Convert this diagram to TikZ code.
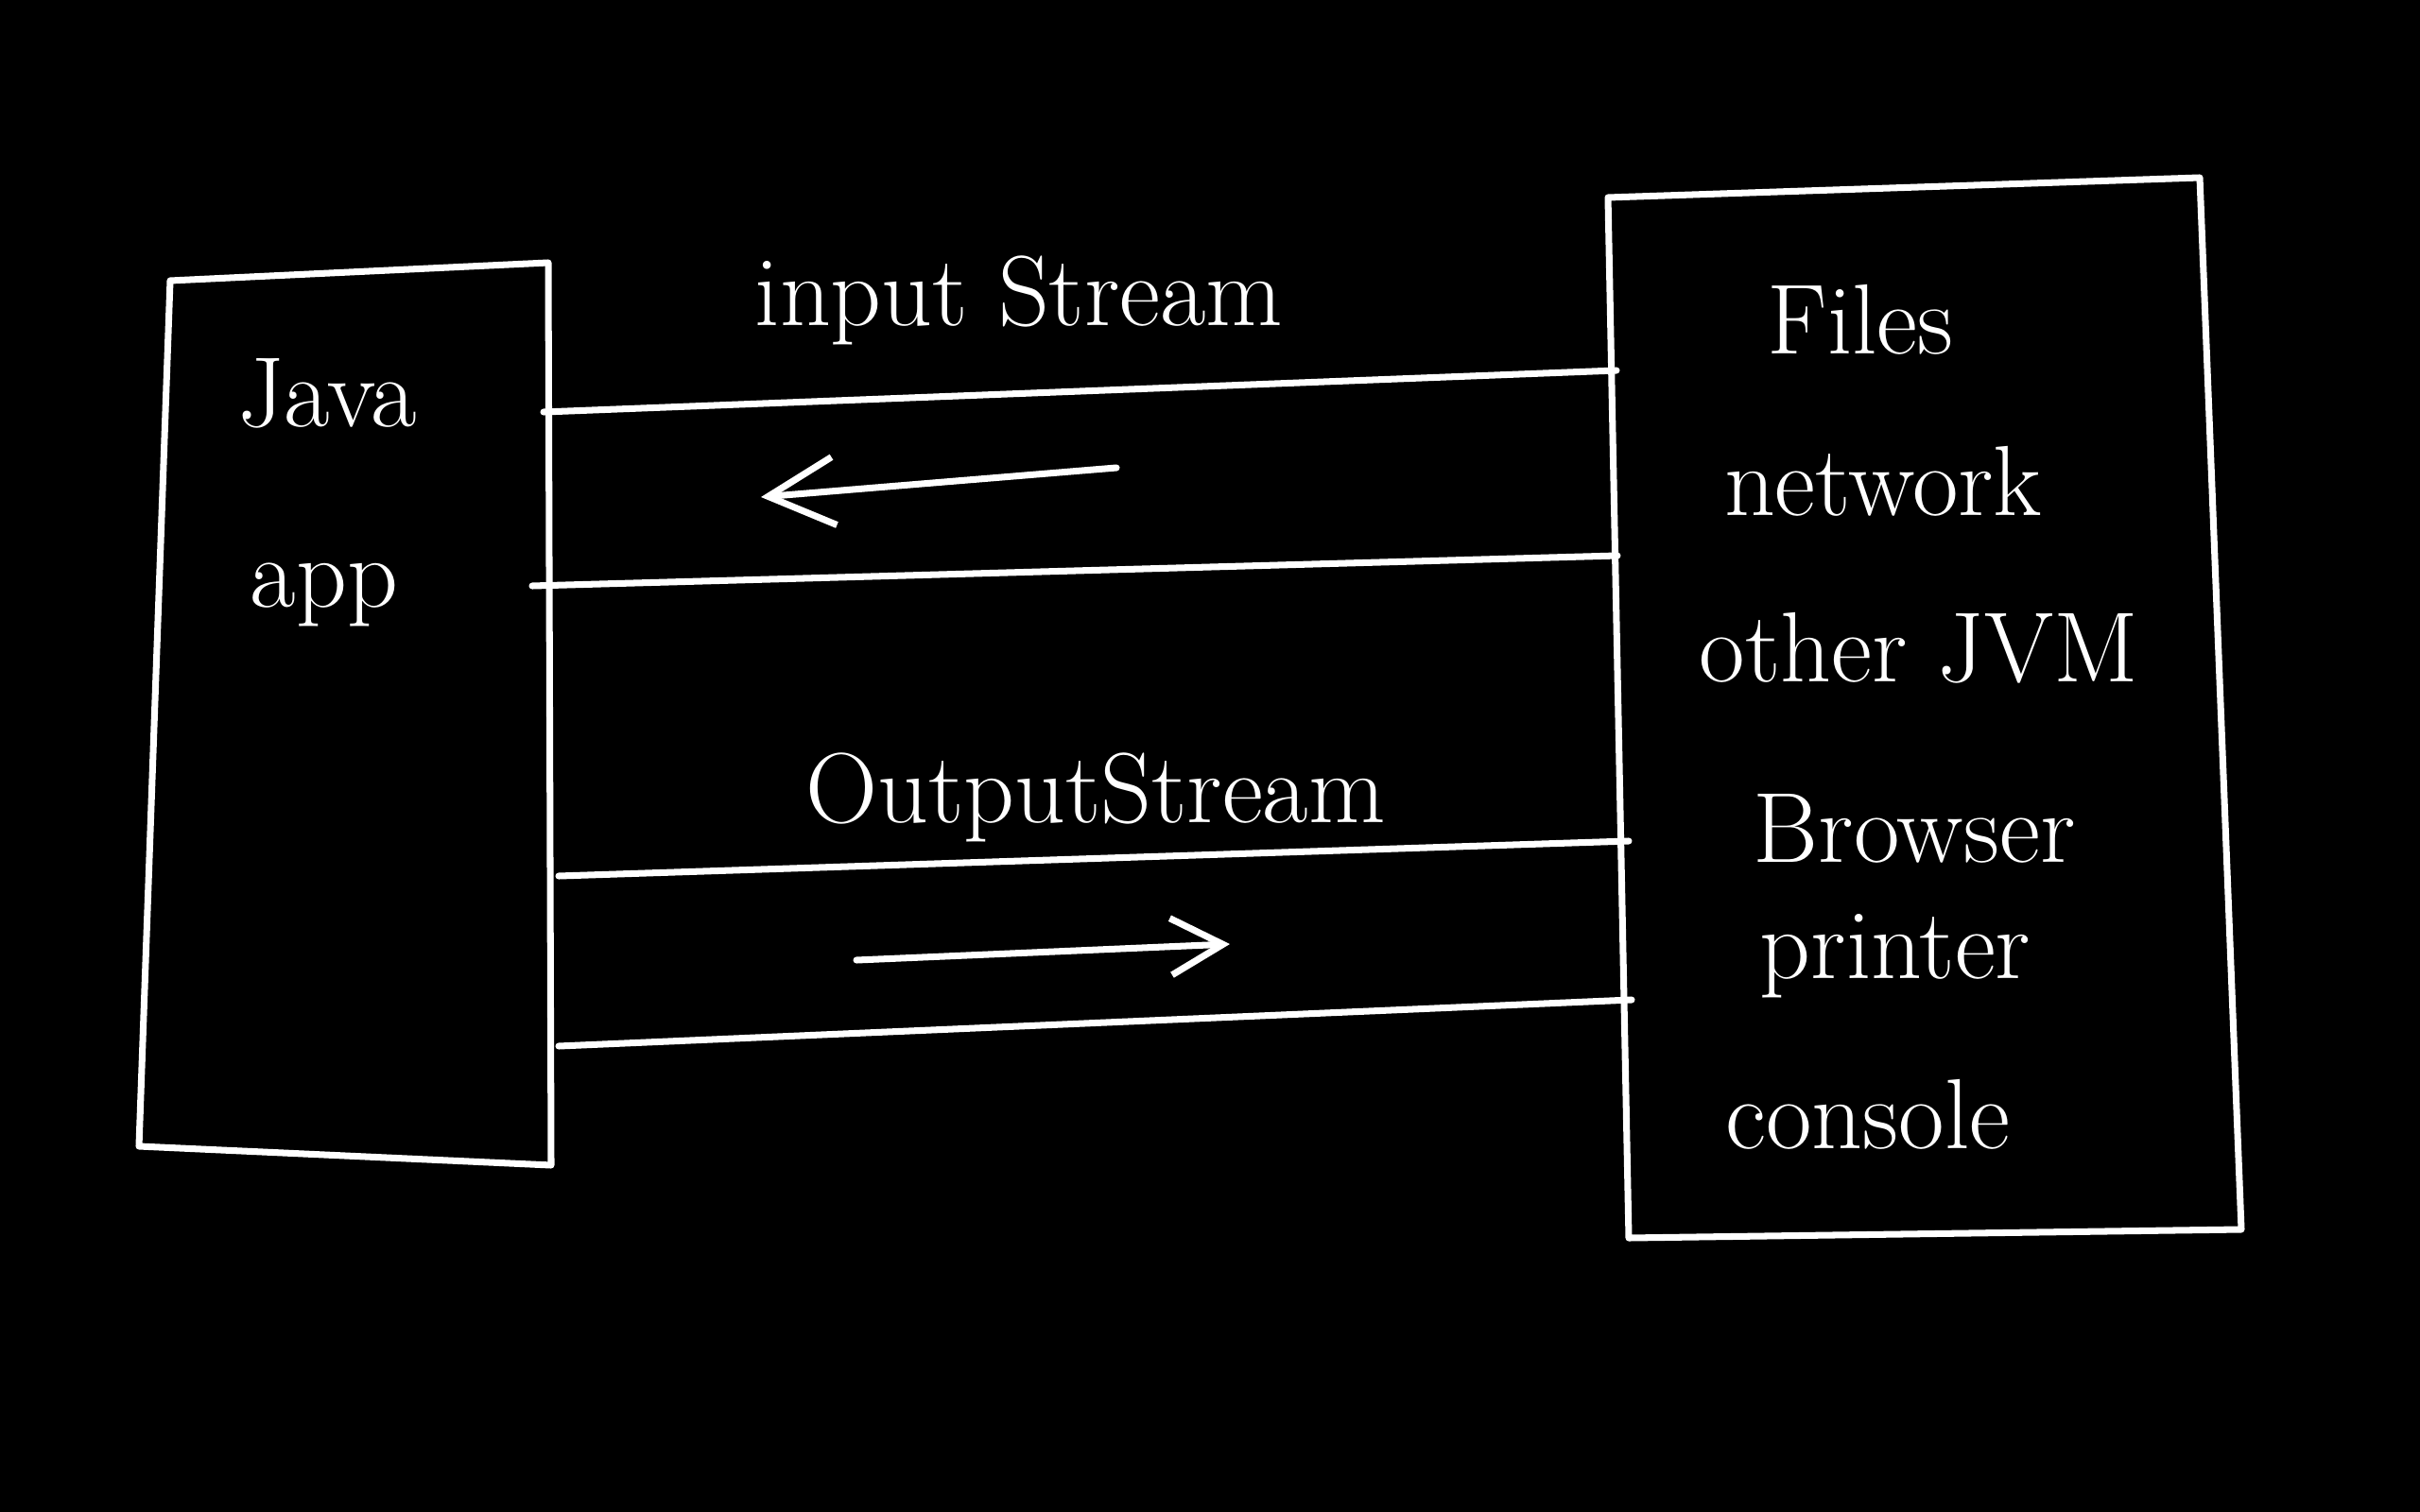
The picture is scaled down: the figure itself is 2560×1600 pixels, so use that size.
\documentclass[tikz,border=0pt]{standalone}
\usetikzlibrary{arrows.meta}
\begin{document}
\begin{tikzpicture}[x=0.01cm,y=-0.01cm,
  pen/.style={draw=white,line width=2pt,line join=round,line cap=round},
  lbl/.style={text=white,font=\fontsize{30}{36}\selectfont,inner sep=0pt},
  flow/.style={pen,-{Straight Barb[length=0.7cm,width=0.72cm,line width=2pt]}}]
\fill[black] (0,0) rectangle (2560,1600);
\useasboundingbox (0,0) rectangle (2560,1600);
% left box (Java app)
\coordinate (L1) at (180,297);
\coordinate (L2) at (580,278);
\coordinate (L3) at (583,1233);
\coordinate (L4) at (147,1213);
\draw[pen] (L1) -- (L2) -- (L3) -- (L4) -- cycle;
% right box
\coordinate (R1) at (1701,209);
\coordinate (R2) at (2327,188);
\coordinate (R3) at (2371,1301);
\coordinate (R4) at (1723,1310);
\draw[pen] (R1) -- (R2) -- (R3) -- (R4) -- cycle;
% stream channels
\coordinate (ia) at (575,436);  \coordinate (ib) at (1710,392);
\coordinate (ic) at (563,620);  \coordinate (id) at (1711,588);
\coordinate (oa) at (591,927);  \coordinate (ob) at (1723,890);
\coordinate (oc) at (591,1107); \coordinate (od) at (1726,1058);
\draw[pen] (ia) -- (ib);
\draw[pen] (ic) -- (id);
\draw[pen] (oa) -- (ob);
\draw[pen] (oc) -- (od);
% arrows
\coordinate (inT) at (1181,495); \coordinate (inH) at (805,526);
\coordinate (outT) at (906,1016); \coordinate (outH) at (1301,999);
\draw[flow] (inT) -- (inH);
\draw[pen,-{Straight Barb[length=0.55cm,width=0.6cm,line width=2pt]}] (outT) -- (outH);
% labels
\node[lbl] (tin) at (1078,318) {input Stream};
\node[lbl] (tout) at (1159,844) {OutputStream};
\node[lbl] (java) at (346,416) {Java};
\node[lbl] (app) at (343,629) {app};
\node[lbl] (files) at (1968,338) {Files};
\node[lbl] (net) at (1992,509) {network};
\node[lbl] (jvm) at (2030,686) {other JVM};
\node[lbl] (brow) at (2025,877) {Browser};
\node[lbl] (prin) at (2005,1012) {printer};
\node[lbl] (cons) at (1976,1179) {console};
\end{tikzpicture}
\end{document}
